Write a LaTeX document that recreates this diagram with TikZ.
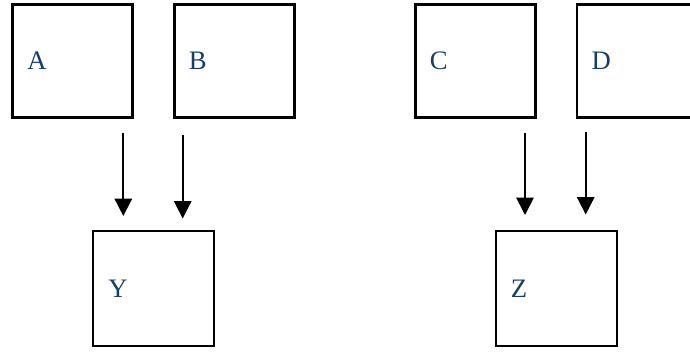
\documentclass[tikz,border=0pt]{standalone}
\usepackage{fontspec}
\setmainfont{Liberation Serif}
\usetikzlibrary{arrows.meta}
\definecolor{labelblue}{RGB}{22,60,110}
\tikzset{
  topbox/.style={draw=black, line width=2pt, minimum width=90pt, minimum height=85pt,
    text width=68pt, align=left, inner xsep=11pt, inner ysep=0pt, outer sep=0pt,
    font=\fontsize{20}{22}\selectfont, text=labelblue},
  botbox/.style={topbox, line width=1.5pt, minimum width=90.5pt, minimum height=86.3pt},
  flow/.style={draw=black, line width=1.3pt, -{Triangle[length=13pt,width=13pt]}}
}
\begin{document}
\begin{tikzpicture}[x=0.75pt, y=-0.75pt]
\clip (0,0) rectangle (690,352);
\fill[white] (0,0) rectangle (690,352);
\node[topbox] (A) at (72.7,61) {A};
\node[topbox] (B) at (234.3,61) {B};
\node[topbox] (C) at (475.3,61) {C};
\node[topbox] (D) at (637,61) {D};
\node[botbox] (Y) at (153.8,288.5) {Y};
\node[botbox] (Z) at (556.3,288.8) {Z};
\coordinate (a1) at (123.3,133);
\coordinate (a2) at (123.3,216);
\coordinate (b1) at (182.7,135);
\coordinate (b2) at (182.7,218.5);
\coordinate (c1) at (525,132.7);
\coordinate (c2) at (525,215);
\coordinate (d1) at (585.7,132);
\coordinate (d2) at (585.7,214.5);
\draw[flow] (a1) -- (a2);
\draw[flow] (b1) -- (b2);
\draw[flow] (c1) -- (c2);
\draw[flow] (d1) -- (d2);
\end{tikzpicture}
\end{document}
